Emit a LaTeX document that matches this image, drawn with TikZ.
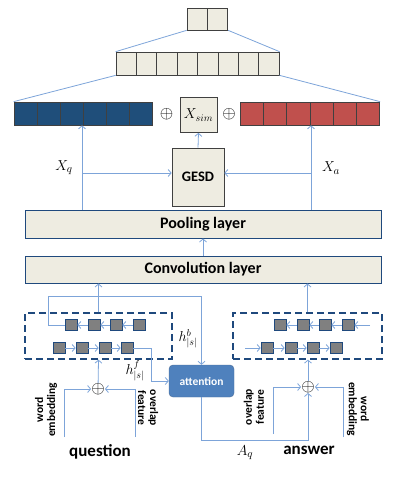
\documentclass[tikz,border=0pt]{standalone}
\usepackage{fontspec}
\setmainfont{Carlito}
\usetikzlibrary{positioning,arrows.meta}
\definecolor{beige}{HTML}{EEECE1}
\definecolor{darkblue}{HTML}{1F497D}
\definecolor{lineblue}{HTML}{7DA4D9}
\definecolor{qblue}{HTML}{1F4E7A}
\definecolor{ared}{HTML}{C0504D}
\definecolor{attblue}{HTML}{4F81BD}
\tikzset{
  cell/.style = {draw=black!75, fill=beige, minimum width=20.4pt, minimum height=22pt, inner sep=0pt, line width=0.7pt},
  qcell/.style = {cell, fill=qblue, minimum width=23pt, minimum height=23pt},
  acell/.style = {cell, fill=ared, minimum width=23.3pt, minimum height=23pt},
  layer/.style = {draw=darkblue, fill=beige, line width=1pt, minimum width=356pt, inner sep=0pt, font=\fontsize{16}{18}\selectfont\bfseries},
  lstm/.style = {draw=darkblue, fill=black!50, minimum width=12pt, minimum height=11pt, inner sep=0pt, line width=0.7pt},
  dbox/.style = {draw=darkblue, line width=1.3pt, dash pattern=on 7pt off 4pt, minimum height=46pt, inner sep=0pt},
  conn/.style = {draw=lineblue, line width=0.8pt},
  arr/.style = {conn, -{Straight Barb[length=3pt,width=7pt]}},
  lbl/.style = {font=\fontsize{11.5}{12}\selectfont\bfseries, align=center, inner sep=0pt},
  word/.style = {font=\fontsize{17}{18}\selectfont\bfseries, inner sep=0pt},
  mlbl/.style = {font=\fontsize{14}{15}\selectfont, inner sep=0pt},
  plus/.style = {inner sep=0pt, font=\fontsize{17}{18}\selectfont}
}
\begin{document}
\begin{tikzpicture}[x=1pt, y=-1pt]
\useasboundingbox (0,0) rectangle (400,484);
\foreach \i in {1,2} \node[cell] (t\i) at (176.8+20.4*\i,19) {};
\foreach \i in {1,...,8} \node[cell, minimum height=23pt] (m\i) at (105.8+20.4*\i,63.5) {};
\foreach \i in {1,...,6} \node[qcell] (q\i) at (2.5+23*\i,113.5) {};
\foreach \i in {1,...,6} \node[acell] (a\i) at (228.3+23.3*\i,113.5) {};
\draw[conn] (t1.south west) -- (m1.north west) (t2.south east) -- (m8.north east);
\draw[conn] (m1.south west) -- (q1.north west) (m8.south east) -- (a6.north east);
\node[plus] (p1) at (166.5,114) {$\oplus$};
\node[plus] (p2) at (229,114) {$\oplus$};
\node[cell, minimum width=37pt, minimum height=35pt, font=\fontsize{14}{15}\selectfont] (xsim) at (198.5,115) {$X_{sim}$};
\node[cell, minimum width=52pt, minimum height=58pt, font=\fontsize{14.5}{16}\selectfont\bfseries] (gesd) at (198,177) {GESD};
\draw[arr] (gesd.north) -- (xsim.south);
\node[layer, minimum height=28pt] (pool) at (203,224) {Pooling layer};
\node[layer, minimum height=27pt] (conv) at (203,269.5) {Convolution layer};
\draw[arr] (conv.north) -- (pool.south);
\coordinate (xq) at (82,173);
\coordinate (xa) at (311,173);
\draw[arr] (xq |- pool.north) -- (xq |- q1.south);
\draw[arr] (xa |- pool.north) -- (xa |- a1.south);
\draw[arr] (xq) -- (xq -| gesd.west);
\draw[arr] (xa) -- (xa -| gesd.east);
\node[mlbl, font=\fontsize{15}{16}\selectfont] (lxq) at (64,168) {$X_q$};
\node[mlbl, font=\fontsize{15}{16}\selectfont] (lxa) at (331,168) {$X_a$};
% question side
\node[dbox, minimum width=147pt] (qbox) at (98.5,336) {};
\foreach \x [count=\i] in {71,94,116,139} \node[lstm] (qb\i) at (\x,325) {};
\foreach \x [count=\i] in {59,82,105,127} \node[lstm] (qf\i) at (\x,348) {};
\foreach \i/\j in {2/1,3/2,4/3} \draw[arr] (qb\i) -- (qb\j);
\foreach \i/\j in {1/2,2/3,3/4} \draw[arr] (qf\i) -- (qf\j);
\draw[arr] (qbox.north) -- (qbox.north |- conv.south);
\node[rounded corners=4pt, draw=darkblue!80, fill=attblue, minimum width=65pt, minimum height=32pt, text=white, font=\fontsize{11.5}{12}\selectfont\bfseries] (att) at (201.5,381) {attention};
\coordinate (hbc) at (48,296);
\coordinate (hfc) at (151,381);
\draw[arr] (qb1.west) -| (hbc) -| (att.north);
\draw[arr] (qf4.east) -| (hfc) -- (att.west);
\node[mlbl] (lhb) at (188,339) {$h^b_{|s|}$};
\node[mlbl] (lhf) at (135,371) {$h^f_{|s|}$};
\node[plus] (qp) at (98,389) {$\oplus$};
\draw[arr] (qp) -- (qbox.south);
\coordinate (qwe) at (64,437);
\coordinate (qov) at (135,437);
\draw[arr] (qwe) |- (qp);
\draw[arr] (qov) |- (qp);
\node[lbl, rotate=90] (lqwe) at (46,410) {word\\embedding};
\node[lbl, rotate=-90] (lqov) at (148,408) {overlap\\feature};
\node[word] (lq) at (100,452) {question};
% answer side
\node[dbox, minimum width=149pt] (abox) at (307.5,336) {};
\foreach \x [count=\i] in {280,303,325,348} \node[lstm] (ab\i) at (\x,325) {};
\foreach \x [count=\i] in {267,291,313,336} \node[lstm] (af\i) at (\x,348) {};
\foreach \i/\j in {2/1,3/2,4/3} \draw[arr] (ab\i) -- (ab\j);
\foreach \i/\j in {1/2,2/3,3/4} \draw[arr] (af\i) -- (af\j);
\coordinate (abin) at (370,325);
\coordinate (afin) at (245,348);
\draw[arr] (abin) -- (ab4.east);
\draw[arr] (afin) -- (af1.west);
\draw[arr] (abox.north) -- (abox.north |- conv.south);
\node[plus] (ap) at (308,387) {$\oplus$};
\draw[arr] (ap) -- (ap |- abox.south);
\coordinate (aov) at (273,434);
\coordinate (awe) at (343,437);
\coordinate (aqc) at (201.5,440);
\draw[arr] (aov) |- (ap);
\draw[arr] (awe) |- (ap);
\draw[arr] (att.south) -- (aqc) -| (ap.south);
\node[lbl, rotate=90] (laov) at (254,407) {overlap\\feature};
\node[lbl, rotate=-90] (lawe) at (358,409) {word\\embedding};
\node[mlbl, font=\fontsize{15}{16}\selectfont] (laq) at (245,453) {$A_q$};
\node[word] (la) at (309,450) {answer};
\end{tikzpicture}
\end{document}
